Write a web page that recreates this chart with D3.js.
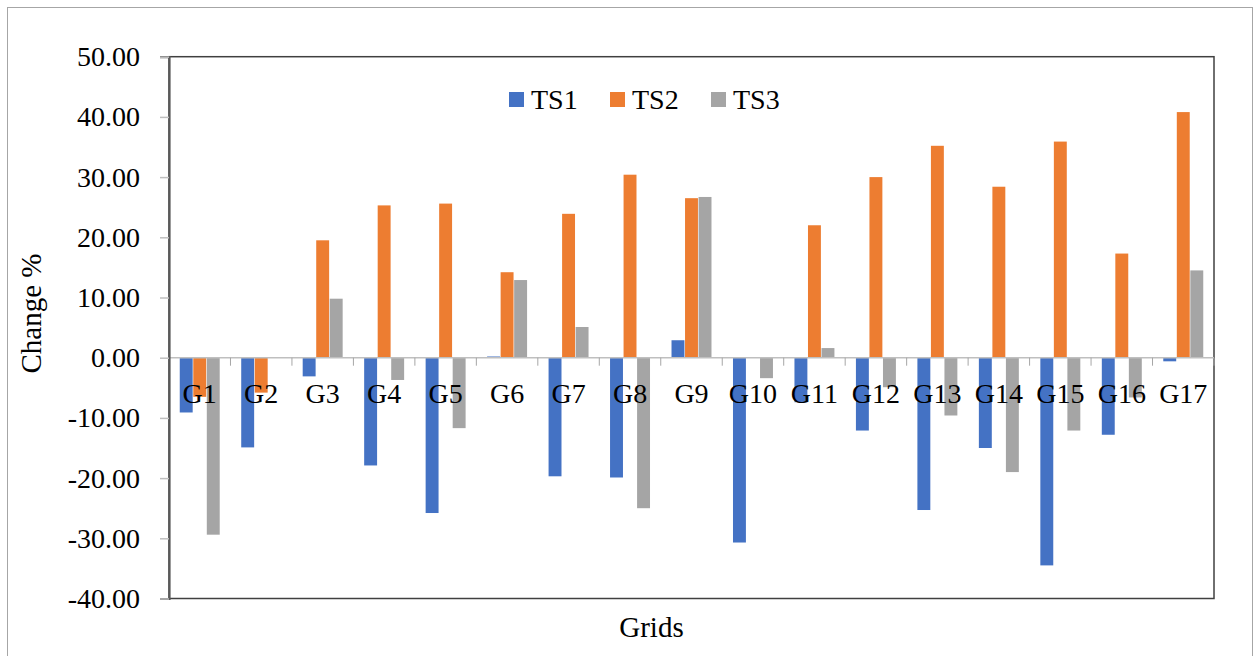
<!DOCTYPE html>
<html>
<head>
<meta charset="utf-8">
<script src="https://cdn.jsdelivr.net/npm/d3@7"></script>
<style>
  body { margin: 0; background: #fff; }
  svg text { font-family: "Liberation Serif", "Times New Roman", serif; fill: #000; }
</style>
</head>
<body>
<div id="chart"></div>
<script>
var categories = ["G1", "G2", "G3", "G4", "G5", "G6", "G7", "G8", "G9", "G10", "G11", "G12", "G13", "G14", "G15", "G16", "G17"];
var seriesNames = ["TS1", "TS2", "TS3"];
var ts1 = [-9.1, -14.9, -3.1, -17.9, -25.8, 0.2, -19.7, -19.9, 2.9, -30.7, -7.4, -12.1, -25.3, -15.0, -34.5, -12.8, -0.6];
var ts2 = [-6.5, -5.8, 19.5, 25.3, 25.6, 14.2, 23.9, 30.4, 26.5, 0.1, 22.0, 30.0, 35.2, 28.4, 35.9, 17.3, 40.8];
var ts3 = [-29.4, 0, 9.8, -3.7, -11.7, 12.9, 5.1, -25.0, 26.7, -3.4, 1.6, -4.9, -9.6, -19.0, -12.1, -6.6, 14.5];
var yTicks = [-40, -30, -20, -10, 0, 10, 20, 30, 40, 50];
var colors = ["#4472C4", "#ED7D31", "#A5A5A5"];

var width = 1255;
var height = 656;
var plot = { left: 169, right: 1214, top: 56.7, bottom: 598.5 };

var values = [ts1, ts2, ts3];
var rows = categories.map(function(c, i) {
  return { cat: c, vals: seriesNames.map(function(s, j) { return { key: s, v: values[j][i] }; }) };
});

var svg = d3.select("#chart")
  .append("svg")
  .attr("width", width)
  .attr("height", height);

/* outer chart border */
svg.append("rect")
  .attr("x", 7.5).attr("y", 7.5)
  .attr("width", 1245).attr("height", 670)
  .attr("fill", "none")
  .attr("stroke", "#a6a6a6")
  .attr("stroke-width", 1);

/* Scales */
var x0 = d3.scaleBand()
  .domain(categories)
  .range([plot.left, plot.right]);

var x1 = d3.scaleBand()
  .domain(seriesNames)
  .range([x0.step() * 0.17, x0.step() * 0.83]);

var y = d3.scaleLinear()
  .domain([-40, 50])
  .range([plot.bottom, plot.top]);

var color = d3.scaleOrdinal().domain(seriesNames).range(colors);

/* plot frame */
svg.append("rect")
  .attr("x", plot.left).attr("y", plot.top)
  .attr("width", plot.right - plot.left)
  .attr("height", plot.bottom - plot.top)
  .attr("fill", "none")
  .attr("stroke", "#404040")
  .attr("stroke-width", 1.5);

/* Bars */
svg.append("g")
  .selectAll("g")
  .data(rows)
  .enter()
  .append("g")
  .attr("transform", d => `translate(${x0(d.cat)},0)`)
  .selectAll("rect")
  .data(d => d.vals)
  .enter()
  .append("rect")
  .attr("x", d => x1(d.key) + 0.3)
  .attr("width", x1.bandwidth() - 0.6)
  .attr("y", d => y(Math.max(0, d.v)))
  .attr("height", d => Math.abs(y(d.v) - y(0)))
  .attr("fill", d => color(d.key));

/* zero line + category ticks */
var xAxisG = svg.append("g");
xAxisG.append("line")
  .attr("x1", plot.left).attr("x2", plot.right)
  .attr("y1", y(0)).attr("y2", y(0))
  .attr("stroke", "#bfbfbf")
  .attr("stroke-width", 1.5);

xAxisG.selectAll(".xtick")
  .data(d3.range(1, categories.length + 1))
  .enter()
  .append("line")
  .attr("class", "xtick")
  .attr("x1", i => x0.range()[0] + i * x0.step())
  .attr("x2", i => x0.range()[0] + i * x0.step())
  .attr("y1", y(0))
  .attr("y2", y(0) + 8)
  .attr("stroke", "#a6a6a6")
  .attr("stroke-width", 1);

xAxisG.selectAll(".xlabel")
  .data(categories)
  .enter()
  .append("text")
  .attr("class", "xlabel")
  .attr("x", d => x0(d) + x0.bandwidth() / 2)
  .attr("y", y(0) + 45.5)
  .attr("text-anchor", "middle")
  .style("font-size", "28px")
  .text(d => d);

/* Y axis */
var yAxis = d3.axisLeft(y)
  .tickValues(yTicks)
  .tickFormat(d => d.toFixed(2))
  .tickSize(9)
  .tickPadding(20);

var yAxisG = svg.append("g")
  .attr("transform", `translate(${plot.left},0)`)
  .call(yAxis);

yAxisG.select(".domain").attr("stroke", "#595959").attr("stroke-width", 2.2);
yAxisG.selectAll(".tick line").attr("stroke", "#bfbfbf").attr("stroke-width", 1.5);
yAxisG.selectAll(".tick text")
  .style("font-family", "'Liberation Serif', 'Times New Roman', serif")
  .style("font-size", "28px")
  .attr("fill", "#000");

/* Axis titles */
svg.append("text")
  .attr("transform", "translate(41,313.5) rotate(-90)")
  .attr("text-anchor", "middle")
  .style("font-size", "29px")
  .text("Change %");

svg.append("text")
  .attr("x", 651.5)
  .attr("y", 637)
  .attr("text-anchor", "middle")
  .style("font-size", "29px")
  .text("Grids");

/* Legend */
var legend = svg.append("g")
  .selectAll("g")
  .data(seriesNames)
  .enter()
  .append("g")
  .attr("transform", (d, i) => `translate(${509 + i * 101},92)`);

legend.append("rect")
  .attr("width", 15)
  .attr("height", 15)
  .attr("fill", d => color(d));

legend.append("text")
  .attr("x", 22)
  .attr("y", 17)
  .style("font-size", "28px")
  .text(d => d);
</script>
</body>
</html>
